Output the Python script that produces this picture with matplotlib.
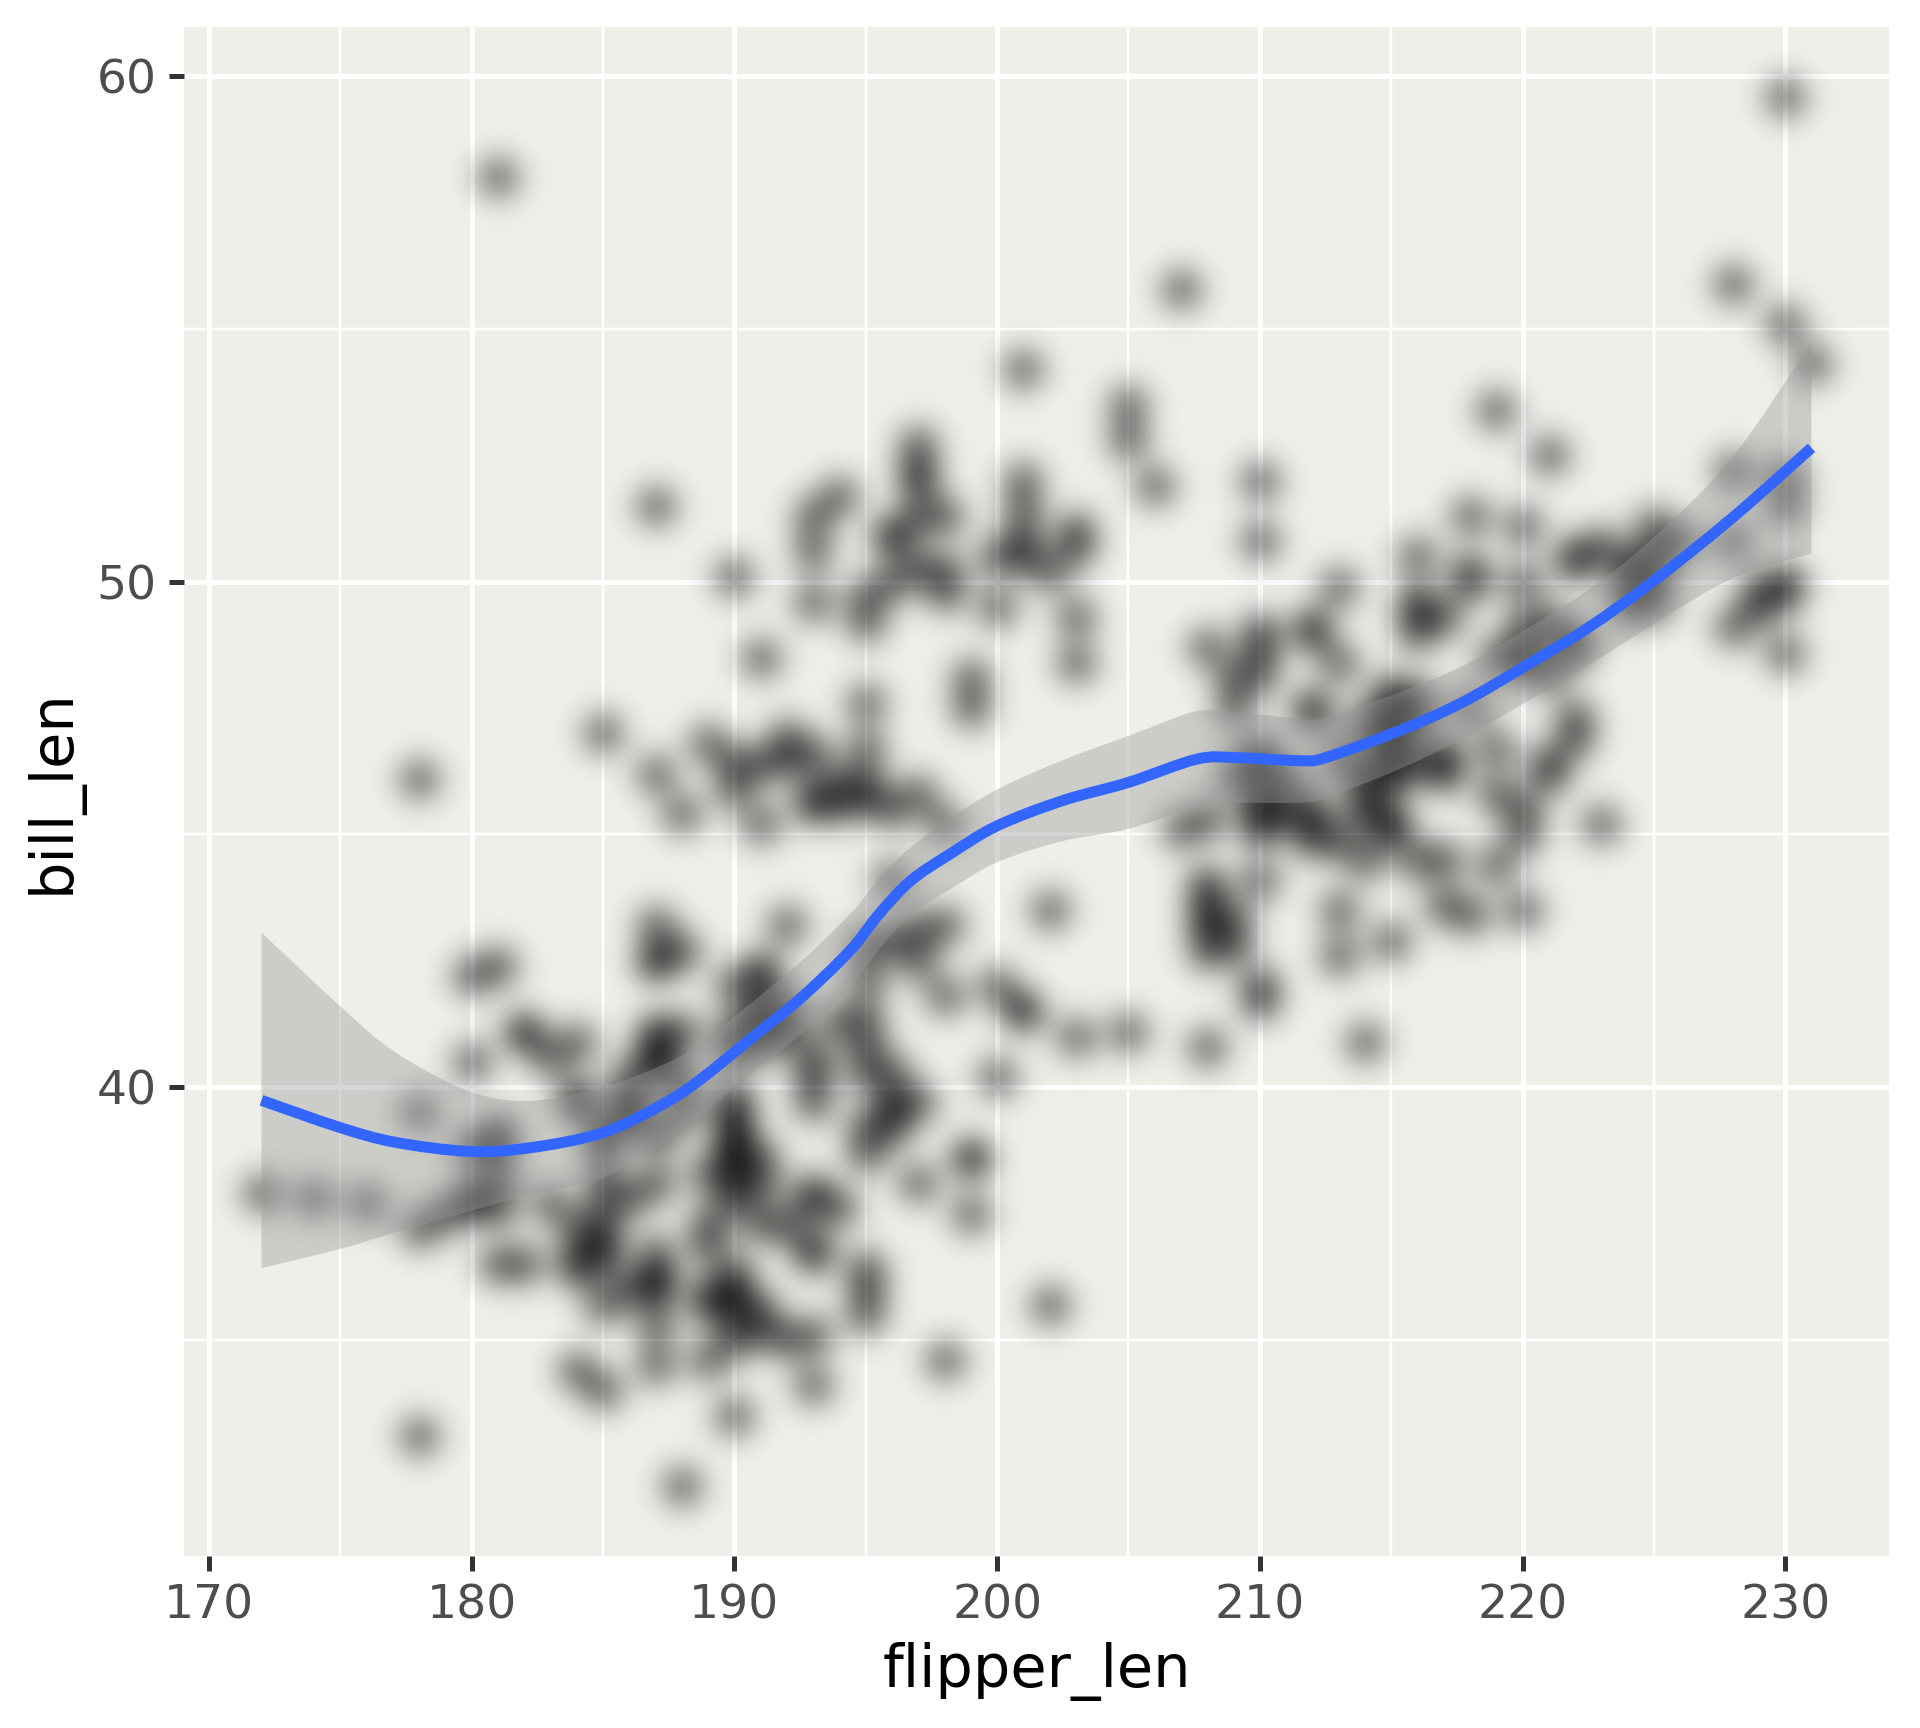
import numpy as np
import matplotlib
matplotlib.use("Agg")
import matplotlib.pyplot as plt
from matplotlib.ticker import MultipleLocator
from matplotlib.path import Path
from matplotlib.patches import PathPatch

# ---------------- data ----------------
flipper_len = [
    181, 186, 195, 193, 190, 181, 195, 193, 190, 186, 180, 182, 191, 198, 185, 195, 197, 184, 194,
    174, 180, 189, 185, 180, 187, 183, 187, 172, 180, 178, 178, 188, 184, 195, 196, 190, 180, 181,
    184, 182, 195, 186, 196, 185, 190, 182, 179, 190, 191, 186, 188, 190, 200, 187, 191, 185, 193,
    181, 194, 185, 195, 185, 192, 184, 192, 195, 188, 190, 198, 190, 190, 196, 197, 190, 195, 191,
    184, 187, 195, 189, 196, 187, 193, 191, 194, 190, 189, 189, 190, 202, 205, 185, 186, 187, 208,
    190, 196, 178, 192, 192, 203, 183, 190, 193, 184, 199, 181, 197, 198, 191, 193, 197, 191, 196,
    188, 199, 189, 189, 187, 187, 176, 186, 191, 191, 187, 190, 201, 187, 210, 190, 197, 193, 199,
    187, 190, 191, 200, 185, 193, 193, 187, 188, 190, 192, 185, 190, 184, 195, 193, 187, 201,
    # second group
    211, 230, 210, 218, 215, 210, 211, 219, 209, 215, 214, 216, 214, 213, 210, 217, 210, 221, 209,
    222, 218, 215, 213, 215, 215, 215, 216, 215, 210, 220, 222, 209, 207, 230, 220, 220, 213, 219,
    208, 208, 208, 225, 210, 216, 222, 217, 210, 225, 213, 215, 210, 220, 210, 225, 217, 220, 208,
    220, 208, 224, 208, 221, 214, 231, 219, 230, 214, 229, 220, 223, 216, 221, 221, 217, 216, 230,
    209, 220, 215, 223, 212, 221, 212, 224, 212, 228, 218, 218, 212, 230, 218, 228, 212, 224, 214,
    226, 216, 222, 203, 225, 219, 228, 215, 228, 216, 215, 210, 219, 208, 209, 216, 229, 213, 230,
    217, 230, 217, 222, 214, 215, 222, 212, 213,
    # third group
    192, 196, 193, 188, 197, 198, 178, 197, 195, 198, 193, 194, 185, 201, 190, 201, 197, 181, 190,
    195, 181, 191, 187, 193, 195, 197, 200, 200, 191, 205, 187, 201, 187, 203, 195, 199, 195, 210,
    192, 205, 210, 187, 196, 196, 196, 201, 190, 212, 187, 198, 199, 201, 193, 203, 187, 197, 191,
    203, 202, 194, 206, 189, 195, 207, 202, 193, 210, 198,
]
bill_len = [
    39.1, 39.5, 40.3, 36.7, 39.3, 38.9, 39.2, 34.1, 42.0, 37.8, 37.8, 41.1, 38.6, 34.6, 36.6, 38.7, 42.5, 34.4, 46.0,
    37.8, 37.7, 35.9, 38.2, 38.8, 35.3, 40.6, 40.5, 37.9, 40.5, 39.5, 37.2, 39.5, 40.9, 36.4, 39.2, 38.8, 42.2, 37.6,
    39.8, 36.5, 40.8, 36.0, 44.1, 37.0, 39.6, 41.1, 37.5, 36.0, 42.3, 39.6, 40.1, 35.0, 42.0, 34.5, 41.4, 39.0, 40.6,
    36.5, 37.6, 35.7, 41.3, 37.6, 41.1, 36.4, 41.6, 35.5, 41.1, 35.9, 41.8, 33.5, 39.7, 39.6, 45.8, 35.5, 42.8, 40.9,
    37.2, 36.2, 42.1, 34.6, 42.9, 36.7, 35.1, 37.3, 41.3, 36.3, 36.9, 38.3, 38.9, 35.7, 41.1, 34.0, 39.6, 36.2, 40.8,
    38.1, 40.3, 33.1, 43.2, 35.0, 41.0, 37.7, 37.8, 37.9, 39.7, 38.6, 38.2, 38.1, 43.2, 38.1, 45.6, 39.7, 42.2, 39.6,
    42.7, 38.6, 37.3, 35.7, 41.1, 36.2, 37.7, 40.2, 41.4, 35.2, 40.6, 38.8, 41.5, 39.0, 44.1, 38.5, 43.1, 36.8, 37.5,
    38.1, 41.1, 35.6, 40.2, 37.0, 39.7, 40.2, 40.6, 32.1, 40.7, 37.3, 39.0, 39.2, 36.6, 36.0, 37.8, 36.0, 41.5,
    # second group
    46.1, 50.0, 48.7, 50.0, 47.6, 46.5, 45.4, 46.7, 43.3, 46.8, 40.9, 49.0, 45.5, 48.4, 45.8, 49.3, 42.0, 49.2, 46.2,
    48.7, 50.2, 45.1, 46.5, 46.3, 42.9, 46.1, 44.5, 47.8, 48.2, 50.0, 47.3, 42.8, 45.1, 59.6, 49.1, 48.4, 42.6, 44.4,
    44.0, 48.7, 42.7, 49.6, 45.3, 49.6, 50.5, 43.6, 45.5, 50.5, 44.9, 45.2, 46.6, 48.5, 45.1, 50.1, 46.5, 45.0, 43.8,
    45.5, 43.2, 50.4, 45.3, 46.2, 45.7, 54.3, 45.8, 49.8, 46.2, 49.5, 43.5, 50.7, 47.7, 46.4, 48.2, 46.5, 46.4, 48.6,
    47.5, 51.1, 45.2, 45.2, 49.1, 52.5, 47.4, 50.0, 44.9, 50.8, 43.4, 51.3, 47.5, 52.1, 47.5, 52.2, 45.5, 49.5, 44.5,
    50.8, 49.4, 46.9, 48.4, 51.1, 48.5, 55.9, 47.2, 49.1, 47.3, 46.8, 41.7, 53.4, 43.3, 48.1, 50.5, 49.8, 43.5, 51.5,
    46.2, 55.1, 44.5, 48.8, 47.2, 46.8, 50.4, 45.2, 49.9,
    # third group
    46.5, 50.0, 51.3, 45.4, 52.7, 45.2, 46.1, 51.3, 46.0, 51.3, 46.6, 51.7, 47.0, 52.0, 45.9, 50.5, 50.3, 58.0, 46.4,
    49.2, 42.4, 48.5, 43.2, 50.6, 46.7, 52.0, 50.5, 49.5, 46.4, 52.8, 40.9, 54.2, 42.5, 51.0, 49.7, 47.5, 47.6, 52.0,
    46.9, 53.5, 49.0, 46.2, 50.9, 45.5, 50.9, 50.8, 50.1, 49.0, 51.5, 49.8, 48.1, 51.4, 45.7, 50.7, 42.5, 52.2, 45.2,
    49.3, 50.2, 45.6, 51.9, 46.8, 45.7, 55.8, 43.5, 49.6, 50.8, 50.2,
]

# smoother curve and half-width of its confidence band
smooth_x = [172, 175, 177.1, 179.9, 182.2, 185, 187.3, 188.7, 190.6, 192.5,
            194.4, 195.5, 196.7, 198.2, 200, 202.5, 205, 207.6, 209.1, 211.5,
            212.5, 215.3, 217.7, 220, 222.5, 225, 228, 231]
smooth_y = [39.74, 39.2, 38.91, 38.73, 38.8, 39.1, 39.67, 40.15, 40.95, 41.75,
            42.70, 43.42, 44.08, 44.61, 45.17, 45.67, 46.03, 46.49, 46.52, 46.46,
            46.52, 47.05, 47.61, 48.30, 49.09, 50.02, 51.27, 52.65]
smooth_se = [3.32, 2.4, 1.78, 1.19, 0.93, 0.9, 0.78, 0.72, 0.7, 0.72,
             0.72, 0.7, 0.66, 0.7, 0.72, 0.8, 0.92, 0.95, 0.9, 0.83,
             0.8, 0.76, 0.72, 0.72, 0.75, 0.86, 1.2, 2.09]

x_ticks = [170, 180, 190, 200, 210, 220, 230]
y_ticks = [40, 50, 60]
x_title = "flipper_len"
y_title = "bill_len"

# ---------------- layout / style ----------------
W, H, DPI = 1920, 1728, 100
PX = 72.0 / DPI          # points per pixel
L, R, B, T = 184, 1889, 1556, 27
rect = [L / W, 1 - B / H, (R - L) / W, (B - T) / H]
PANEL = "#EFEFEA"
POINT_D = 40      # px diameter of a point before blur
POINT_A = 0.6
SIGMA = 15        # blur sigma in px


def expand(vals, f=0.05):
    lo, hi = min(vals), max(vals)
    d = (hi - lo) * f
    return lo - d, hi + d


xlim = expand(flipper_len)
ylim = expand(bill_len)


def gblur(img, sigma):
    r = int(4 * sigma)
    k = np.exp(-0.5 * (np.arange(-r, r + 1) / sigma) ** 2)
    k /= k.sum()
    p = np.pad(img, r, mode="constant")
    tmp = np.apply_along_axis(lambda v: np.convolve(v, k, mode="valid"), 1, p)
    return np.apply_along_axis(lambda v: np.convolve(v, k, mode="valid"), 0, tmp)


def blurred_points():
    f2 = plt.figure(figsize=(W / DPI, H / DPI), dpi=DPI)
    f2.patch.set_alpha(0)
    a2 = f2.add_axes(rect)
    a2.set_xlim(xlim)
    a2.set_ylim(ylim)
    a2.set_axis_off()
    a2.scatter(flipper_len, bill_len, s=(POINT_D * PX) ** 2, c="black",
               alpha=POINT_A, linewidths=0, clip_on=False)
    f2.canvas.draw()
    buf = np.asarray(f2.canvas.buffer_rgba()).astype(float) / 255.0
    bb = a2.get_window_extent()
    plt.close(f2)
    alpha = gblur(buf[..., 3], SIGMA)
    hh = buf.shape[0]
    x0, x1 = int(round(bb.x0)), int(round(bb.x1))
    y0, y1 = hh - int(round(bb.y1)), hh - int(round(bb.y0))
    crop = alpha[y0:y1, x0:x1]
    img = np.zeros(crop.shape + (4,))
    img[..., 3] = np.clip(crop, 0, 1)
    return img


def smooth_segments(xs, ys):
    """Catmull-Rom through the given points, returned as cubic Bezier pieces."""
    P = np.column_stack([xs, ys]).astype(float)
    n = len(P)
    verts = []
    for i in range(n - 1):
        p0 = P[i - 1] if i > 0 else P[i]
        p1, p2 = P[i], P[i + 1]
        p3 = P[i + 2] if i + 2 < n else P[i + 1]
        c1 = p1 + (p2 - p0) / 6.0
        c2 = p2 - (p3 - p1) / 6.0
        verts += [c1, c2, p2]
    return P[0], verts


fig = plt.figure(figsize=(W / DPI, H / DPI), dpi=DPI)
fig.patch.set_facecolor("white")
ax = fig.add_axes(rect)
ax.set_facecolor(PANEL)

img = blurred_points()
ax.imshow(img, extent=(xlim[0], xlim[1], ylim[0], ylim[1]), aspect="auto",
          interpolation="nearest", zorder=1)

sx = np.array(smooth_x)
sy = np.array(smooth_y)
se = np.array(smooth_se)

# confidence band
s_up, v_up = smooth_segments(sx, sy + se)
s_lo, v_lo = smooth_segments(sx[::-1], (sy - se)[::-1])
band_verts = [s_up] + v_up + [s_lo] + v_lo + [s_up]
band_codes = ([Path.MOVETO] + [Path.CURVE4] * len(v_up) + [Path.LINETO]
              + [Path.CURVE4] * len(v_lo) + [Path.CLOSEPOLY])
ax.add_patch(PathPatch(Path(band_verts, band_codes), facecolor="#999999",
                       alpha=0.4, lw=0, zorder=2))

# fitted line
s0, vl = smooth_segments(sx, sy)
line_path = Path([s0] + vl, [Path.MOVETO] + [Path.CURVE4] * len(vl))
ax.add_patch(PathPatch(line_path, facecolor="none", edgecolor="#3366FF",
                       lw=11 * PX, capstyle="butt", joinstyle="round", zorder=3))

ax.set_xlim(xlim)
ax.set_ylim(ylim)
ax.set_xticks(x_ticks)
ax.set_yticks(y_ticks)
ax.xaxis.set_minor_locator(MultipleLocator(5))
ax.yaxis.set_minor_locator(MultipleLocator(5))
ax.set_axisbelow(True)
ax.grid(which="major", color="white", lw=5 * PX, zorder=0)
ax.grid(which="minor", color="white", lw=2.5 * PX, zorder=0)
for s in ax.spines.values():
    s.set_visible(False)
ax.tick_params(which="major", length=15 * PX, width=5 * PX, color="#333333",
               labelsize=34, labelcolor="#4D4D4D", pad=9)
ax.tick_params(which="minor", length=0)
ax.set_xlabel(x_title, fontsize=42.5, color="black", labelpad=10)
ax.set_ylabel(y_title, fontsize=42.5, color="black", labelpad=10)

fig.savefig("out.png", dpi=DPI, facecolor="white")
